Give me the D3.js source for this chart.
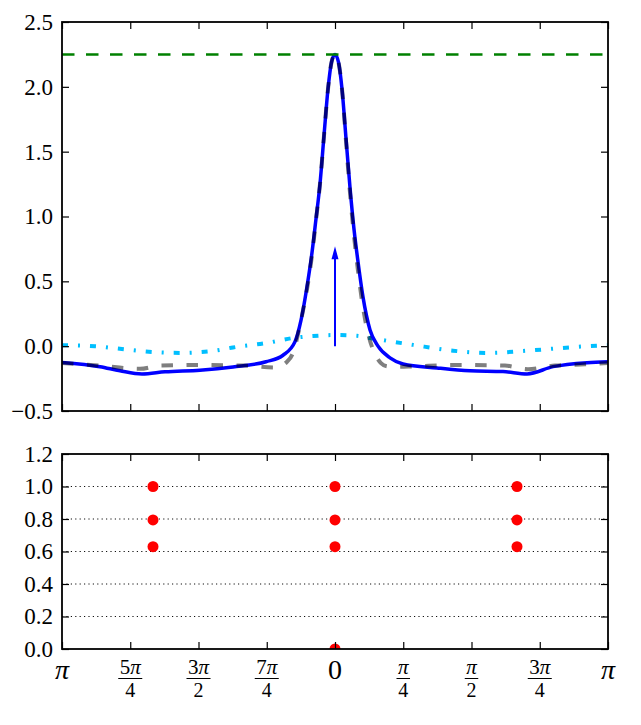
<!DOCTYPE html>
<html>
<head>
<meta charset="utf-8">
<script src="https://d3js.org/d3.v7.min.js"></script>
<style>
  body { margin: 0; background: #fff; }
</style>
</head>
<body>
<div id="chart"></div>
<script>
// ***** DATA *****
// angle (radians) and value for the solid blue curve
var blueX = [-3.1416, -2.704, -2.474, -2.221, -1.956, -1.554, -1.174, -0.794, -0.598, -0.460, -0.391, -0.322, -0.265, -0.219, -0.173, -0.127, -0.081, -0.040, 0,
             0.040, 0.081, 0.127, 0.173, 0.219, 0.265, 0.322, 0.403, 0.495, 0.633, 0.783, 1.174, 1.554, 1.933, 2.210, 2.509, 2.900, 3.1416];
var blueY = [-0.125, -0.158, -0.19, -0.215, -0.198, -0.185, -0.16, -0.12, -0.07, 0.035, 0.2, 0.46, 0.72, 0.98, 1.25, 1.62, 1.98, 2.19, 2.25,
             2.19, 1.98, 1.6, 1.22, 0.9, 0.65, 0.38, 0.125, 0.0, -0.09, -0.137, -0.168, -0.19, -0.196, -0.214, -0.158, -0.127, -0.12];

// grey dashed curve
var grayX = [-3.1416, -2.704, -2.244, -2.014, -1.554, -1.036, -0.690, -0.552, -0.483, -0.437, -0.391, -0.322, -0.265, -0.219, -0.173, -0.127, -0.081, -0.040, 0,
             0.040, 0.081, 0.127, 0.173, 0.219, 0.265, 0.322, 0.391, 0.460, 0.529, 0.598, 0.690, 0.921, 1.381, 1.956, 2.221, 2.532, 2.877, 3.1416];
var grayY = [-0.13, -0.15, -0.175, -0.15, -0.145, -0.15, -0.165, -0.12, -0.05, 0.06, 0.2, 0.44, 0.7, 0.97, 1.25, 1.62, 1.98, 2.19, 2.25,
             2.19, 1.98, 1.58, 1.18, 0.85, 0.58, 0.3, 0.07, -0.06, -0.13, -0.155, -0.16, -0.155, -0.145, -0.15, -0.178, -0.15, -0.14, -0.13];

// light blue dash-dot curve
var cyanX = [-3.1416, -2.762, -2.417, -2.106, -1.784, -1.381, -1.174, -0.783, -0.483, -0.253, 0,
             0.253, 0.403, 0.898, 1.358, 1.749, 2.210, 2.589, 2.900, 3.1416];
var cyanY = [0.008, 0.0, -0.025, -0.045, -0.052, -0.035, -0.01, 0.025, 0.063, 0.078, 0.086,
             0.08, 0.063, 0.01, -0.035, -0.052, -0.035, -0.015, 0.0, 0.008];

var peakLevel = 2.25;
var arrowX = 0, arrowFrom = 0, arrowTo = 0.77;

// red dots of the lower panel
var dotX = [-2.0944, -2.0944, -2.0944, 0, 0, 0, 0, 2.0944, 2.0944, 2.0944];
var dotY = [1.0, 0.794, 0.63, 1.0, 0.794, 0.63, 0.0, 1.0, 0.794, 0.63];

var xTickValues = [-Math.PI, -3 * Math.PI / 4, -Math.PI / 2, -Math.PI / 4, 0, Math.PI / 4, Math.PI / 2, 3 * Math.PI / 4, Math.PI];
var xTickLabels = ["π", "5π/4", "3π/2", "7π/4", "0", "π/4", "π/2", "3π/4", "π"];
var yTopTicks = [-0.5, 0, 0.5, 1.0, 1.5, 2.0, 2.5];
var yBotTicks = [0, 0.2, 0.4, 0.6, 0.8, 1.0, 1.2];
var gridLevels = [0.2, 0.4, 0.6, 0.8, 1.0];

// ***** LAYOUT *****
var left = 62, right = 608;
var topT = 22, topB = 411;
var botT = 454, botB = 649;
var tickLen = 7;
var serif = "'Liberation Serif', 'DejaVu Serif', serif";

var svg = d3.select("#chart").append("svg")
    .attr("width", 641).attr("height", 725);

var x = d3.scaleLinear().domain([-Math.PI, Math.PI]).range([left, right]);
var yTop = d3.scaleLinear().domain([-0.5, 2.5]).range([topB, topT]);
var yBot = d3.scaleLinear().domain([0, 1.2]).range([botB, botT]);

var defs = svg.append("defs");
defs.append("clipPath").attr("id", "clipTop").append("rect")
    .attr("x", left).attr("y", topT).attr("width", right - left).attr("height", topB - topT);
defs.append("clipPath").attr("id", "clipBot").append("rect")
    .attr("x", left).attr("y", botT).attr("width", right - left).attr("height", botB - botT);

var fmt = function(d) { return d3.format(".1f")(d).replace("-", "\u2212"); };

function frameAxes(g, yScale, yTicks, t, b) {
    g.append("g").attr("transform", "translate(" + left + ",0)")
        .call(d3.axisLeft(yScale).tickValues(yTicks).tickFormat(fmt).tickSizeInner(-tickLen).tickSizeOuter(0).tickPadding(9));
    g.append("g").attr("transform", "translate(" + right + ",0)")
        .call(d3.axisRight(yScale).tickValues(yTicks).tickFormat("").tickSizeInner(-tickLen).tickSizeOuter(0));
    g.append("g").attr("transform", "translate(0," + t + ")")
        .call(d3.axisTop(x).tickValues(xTickValues).tickFormat("").tickSizeInner(-tickLen).tickSizeOuter(0));
    g.append("g").attr("transform", "translate(0," + b + ")")
        .call(d3.axisBottom(x).tickValues(xTickValues).tickFormat("").tickSizeInner(-tickLen).tickSizeOuter(0));
    g.selectAll(".domain").remove();
    g.selectAll(".tick line").attr("stroke", "#000").attr("stroke-width", 1.2);
    g.selectAll(".tick text")
        .attr("fill", "#000")
        .style("font-family", serif)
        .style("font-size", "23px");
    g.append("rect")
        .attr("x", left).attr("y", t).attr("width", right - left).attr("height", b - t)
        .attr("fill", "none").attr("stroke", "#000").attr("stroke-width", 1.8);
}

// ***** TOP PANEL *****
var topPanel = svg.append("g");
var plotTop = topPanel.append("g").attr("clip-path", "url(#clipTop)");

function curve(xs, ys) {
    return d3.line()
        .x(function(d, i) { return x(xs[i]); })
        .y(function(d, i) { return yTop(ys[i]); })
        .curve(d3.curveMonotoneX)(xs);
}

plotTop.append("path").attr("d", curve(cyanX, cyanY))
    .attr("fill", "none").attr("stroke", "#00bfff").attr("stroke-width", 4)
    .attr("stroke-dasharray", "6,10,2,10");

plotTop.append("path").attr("d", curve(blueX, blueY))
    .attr("fill", "none").attr("stroke", "#0000ff").attr("stroke-width", 3.5);

plotTop.append("path").attr("d", curve(grayX, grayY))
    .attr("fill", "none").attr("stroke", "#000").attr("stroke-opacity", 0.5)
    .attr("stroke-width", 4).attr("stroke-dasharray", "11.5,13.5");

plotTop.append("line")
    .attr("x1", x(-Math.PI)).attr("x2", x(Math.PI))
    .attr("y1", yTop(peakLevel)).attr("y2", yTop(peakLevel))
    .attr("stroke", "#008000").attr("stroke-width", 2.5)
    .attr("stroke-dasharray", "12.5,11.5");

// arrow
var headLen = 13, headHalf = 3.5;
var ax = x(arrowX), tipY = yTop(arrowTo);
plotTop.append("line")
    .attr("x1", ax).attr("x2", ax)
    .attr("y1", yTop(arrowFrom)).attr("y2", tipY + headLen - 1)
    .attr("stroke", "#0000ff").attr("stroke-width", 2);
plotTop.append("path")
    .attr("d", "M" + ax + "," + tipY + "L" + (ax - headHalf) + "," + (tipY + headLen) +
               "L" + (ax + headHalf) + "," + (tipY + headLen) + "Z")
    .attr("fill", "#0000ff");

frameAxes(topPanel, yTop, yTopTicks, topT, topB);

// ***** BOTTOM PANEL *****
var botPanel = svg.append("g");
var plotBot = botPanel.append("g").attr("clip-path", "url(#clipBot)");

plotBot.selectAll(".grid")
    .data(gridLevels)
    .enter()
    .append("line")
    .attr("class", "grid")
    .attr("x1", left).attr("x2", right)
    .attr("y1", function(d) { return yBot(d); })
    .attr("y2", function(d) { return yBot(d); })
    .attr("stroke", "#111").attr("stroke-width", 1)
    .attr("stroke-dasharray", "1.2,3.2");

plotBot.selectAll(".dot")
    .data(dotX)
    .enter()
    .append("circle")
    .attr("class", "dot")
    .attr("cx", function(d) { return x(d); })
    .attr("cy", function(d, i) { return yBot(dotY[i]); })
    .attr("r", 5.5)
    .attr("fill", "#ff0000");

frameAxes(botPanel, yBot, yBotTicks, botT, botB);

// x tick labels, fractions drawn as numerator / bar / denominator
var labels = botPanel.selectAll(".xlab")
    .data(xTickLabels)
    .enter()
    .append("g")
    .attr("class", "xlab")
    .attr("transform", function(d, i) { return "translate(" + x(xTickValues[i]) + ",0)"; });

function addMath(sel, str, size) {
    // digits upright, pi italic
    var t = sel.append("text")
        .attr("text-anchor", "middle")
        .attr("fill", "#000")
        .style("font-family", serif)
        .style("font-size", size + "px");
    str.split("").forEach(function(c) {
        t.append("tspan").text(c).style("font-style", c === "π" ? "italic" : "normal");
    });
    return t;
}

labels.each(function(d) {
    var g = d3.select(this);
    if (d.indexOf("/") < 0) {
        addMath(g, d, 28).attr("y", 679);
    } else {
        var parts = d.split("/");
        var num = addMath(g, parts[0], 21).attr("y", 674);
        var den = addMath(g, parts[1], 20).attr("y", 697);
        var w = Math.max(num.node().getComputedTextLength(), den.node().getComputedTextLength()) + 3;
        g.append("line")
            .attr("x1", -w / 2).attr("x2", w / 2)
            .attr("y1", 678.5).attr("y2", 678.5)
            .attr("stroke", "#000").attr("stroke-width", 1);
    }
});
</script>
</body>
</html>
